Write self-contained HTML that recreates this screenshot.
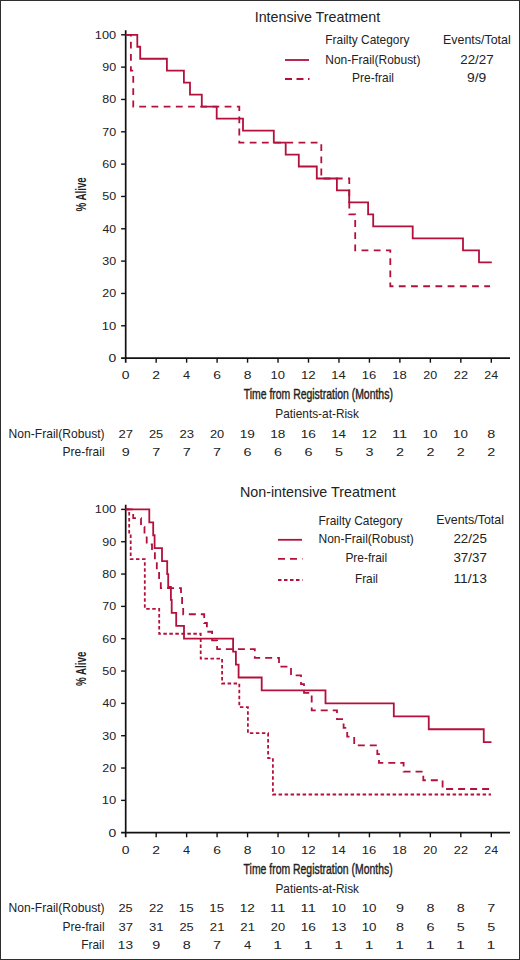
<!DOCTYPE html>
<html><head><meta charset="utf-8"><title>Kaplan-Meier survival</title>
<style>
html,body{margin:0;padding:0;background:#fff;}
svg{display:block;}
text{font-family:"Liberation Sans",sans-serif;fill:#222;}
</style></head><body>
<svg width="520" height="960" viewBox="0 0 520 960">
<rect x="0.5" y="0.5" width="519" height="959" fill="#fff" stroke="#2e2e2e" stroke-width="1"/>
<line x1="125.7" y1="30.20" x2="125.7" y2="362.70" stroke="#111" stroke-width="1.7"/>
<line x1="121.10" y1="358.10" x2="510" y2="358.10" stroke="#111" stroke-width="1.7"/>
<line x1="121.10" y1="325.77" x2="125.7" y2="325.77" stroke="#111" stroke-width="1.4"/>
<line x1="121.10" y1="293.44" x2="125.7" y2="293.44" stroke="#111" stroke-width="1.4"/>
<line x1="121.10" y1="261.11" x2="125.7" y2="261.11" stroke="#111" stroke-width="1.4"/>
<line x1="121.10" y1="228.78" x2="125.7" y2="228.78" stroke="#111" stroke-width="1.4"/>
<line x1="121.10" y1="196.45" x2="125.7" y2="196.45" stroke="#111" stroke-width="1.4"/>
<line x1="121.10" y1="164.12" x2="125.7" y2="164.12" stroke="#111" stroke-width="1.4"/>
<line x1="121.10" y1="131.79" x2="125.7" y2="131.79" stroke="#111" stroke-width="1.4"/>
<line x1="121.10" y1="99.46" x2="125.7" y2="99.46" stroke="#111" stroke-width="1.4"/>
<line x1="121.10" y1="67.13" x2="125.7" y2="67.13" stroke="#111" stroke-width="1.4"/>
<line x1="121.10" y1="34.80" x2="125.7" y2="34.80" stroke="#111" stroke-width="1.4"/>
<line x1="156.17" y1="358.10" x2="156.17" y2="362.70" stroke="#111" stroke-width="1.4"/>
<line x1="186.63" y1="358.10" x2="186.63" y2="362.70" stroke="#111" stroke-width="1.4"/>
<line x1="217.10" y1="358.10" x2="217.10" y2="362.70" stroke="#111" stroke-width="1.4"/>
<line x1="247.56" y1="358.10" x2="247.56" y2="362.70" stroke="#111" stroke-width="1.4"/>
<line x1="278.03" y1="358.10" x2="278.03" y2="362.70" stroke="#111" stroke-width="1.4"/>
<line x1="308.50" y1="358.10" x2="308.50" y2="362.70" stroke="#111" stroke-width="1.4"/>
<line x1="338.96" y1="358.10" x2="338.96" y2="362.70" stroke="#111" stroke-width="1.4"/>
<line x1="369.43" y1="358.10" x2="369.43" y2="362.70" stroke="#111" stroke-width="1.4"/>
<line x1="399.89" y1="358.10" x2="399.89" y2="362.70" stroke="#111" stroke-width="1.4"/>
<line x1="430.36" y1="358.10" x2="430.36" y2="362.70" stroke="#111" stroke-width="1.4"/>
<line x1="460.83" y1="358.10" x2="460.83" y2="362.70" stroke="#111" stroke-width="1.4"/>
<line x1="491.29" y1="358.10" x2="491.29" y2="362.70" stroke="#111" stroke-width="1.4"/>
<line x1="125.7" y1="504.80" x2="125.7" y2="837.30" stroke="#111" stroke-width="1.7"/>
<line x1="121.10" y1="832.70" x2="510" y2="832.70" stroke="#111" stroke-width="1.7"/>
<line x1="121.10" y1="800.37" x2="125.7" y2="800.37" stroke="#111" stroke-width="1.4"/>
<line x1="121.10" y1="768.04" x2="125.7" y2="768.04" stroke="#111" stroke-width="1.4"/>
<line x1="121.10" y1="735.71" x2="125.7" y2="735.71" stroke="#111" stroke-width="1.4"/>
<line x1="121.10" y1="703.38" x2="125.7" y2="703.38" stroke="#111" stroke-width="1.4"/>
<line x1="121.10" y1="671.05" x2="125.7" y2="671.05" stroke="#111" stroke-width="1.4"/>
<line x1="121.10" y1="638.72" x2="125.7" y2="638.72" stroke="#111" stroke-width="1.4"/>
<line x1="121.10" y1="606.39" x2="125.7" y2="606.39" stroke="#111" stroke-width="1.4"/>
<line x1="121.10" y1="574.06" x2="125.7" y2="574.06" stroke="#111" stroke-width="1.4"/>
<line x1="121.10" y1="541.73" x2="125.7" y2="541.73" stroke="#111" stroke-width="1.4"/>
<line x1="121.10" y1="509.40" x2="125.7" y2="509.40" stroke="#111" stroke-width="1.4"/>
<line x1="156.17" y1="832.70" x2="156.17" y2="837.30" stroke="#111" stroke-width="1.4"/>
<line x1="186.63" y1="832.70" x2="186.63" y2="837.30" stroke="#111" stroke-width="1.4"/>
<line x1="217.10" y1="832.70" x2="217.10" y2="837.30" stroke="#111" stroke-width="1.4"/>
<line x1="247.56" y1="832.70" x2="247.56" y2="837.30" stroke="#111" stroke-width="1.4"/>
<line x1="278.03" y1="832.70" x2="278.03" y2="837.30" stroke="#111" stroke-width="1.4"/>
<line x1="308.50" y1="832.70" x2="308.50" y2="837.30" stroke="#111" stroke-width="1.4"/>
<line x1="338.96" y1="832.70" x2="338.96" y2="837.30" stroke="#111" stroke-width="1.4"/>
<line x1="369.43" y1="832.70" x2="369.43" y2="837.30" stroke="#111" stroke-width="1.4"/>
<line x1="399.89" y1="832.70" x2="399.89" y2="837.30" stroke="#111" stroke-width="1.4"/>
<line x1="430.36" y1="832.70" x2="430.36" y2="837.30" stroke="#111" stroke-width="1.4"/>
<line x1="460.83" y1="832.70" x2="460.83" y2="837.30" stroke="#111" stroke-width="1.4"/>
<line x1="491.29" y1="832.70" x2="491.29" y2="837.30" stroke="#111" stroke-width="1.4"/>
<line x1="285" y1="60" x2="309" y2="60" stroke="#b4103c" stroke-width="1.8"/>
<line x1="285" y1="79" x2="309.5" y2="79" stroke="#b4103c" stroke-width="1.8" stroke-dasharray="7 4.5"/>
<line x1="278" y1="539.8" x2="302" y2="539.8" stroke="#b4103c" stroke-width="1.8"/>
<line x1="278" y1="558.8" x2="302.5" y2="558.8" stroke="#b4103c" stroke-width="1.8" stroke-dasharray="7 5"/>
<line x1="278" y1="580" x2="302.5" y2="580" stroke="#b4103c" stroke-width="1.8" stroke-dasharray="3.5 2.5"/>
<path d="M125.70,34.80 H137.30 V46.77 H140.20 V58.75 H166.90 V70.72 H183.90 V82.70 H190.00 V94.67 H201.80 V106.64 H216.70 V118.62 H243.00 V130.59 H273.80 V142.57 H285.70 V154.54 H298.80 V166.51 H316.80 V178.49 H336.90 V190.46 H349.20 V202.44 H368.10 V214.41 H373.20 V226.39 H412.70 V238.36 H463.00 V250.33 H479.00 V262.31 H491.80" fill="none" stroke="#b4103c" stroke-width="1.8"/>
<path d="M125.70,34.80 H130.90 V70.72 H133.25 V106.64 H239.30 V142.57 H321.30 V178.49 H349.30 V214.41 H355.20 V250.33 H390.30 V286.26 H490.00" fill="none" stroke="#b4103c" stroke-width="1.8" stroke-dasharray="6.8 5.4"/>
<path d="M125.70,509.40 H149.30 V522.33 H153.20 V535.26 H154.60 V548.20 H162.00 V561.13 H167.20 V574.06 H168.20 V586.99 H170.90 V599.92 H171.70 V612.86 H176.20 V625.79 H184.00 V638.72 H233.10 V651.65 H235.90 V664.58 H238.60 V677.52 H261.70 V690.45 H325.50 V703.38 H393.80 V716.31 H428.75 V729.24 H483.75 V742.18 H491.50" fill="none" stroke="#b4103c" stroke-width="1.8"/>
<path d="M125.70,509.40 H133.20 V518.14 H141.00 V526.88 H144.50 V535.61 H146.70 V544.35 H152.00 V553.09 H154.90 V561.83 H156.80 V570.56 H159.10 V579.30 H160.80 V588.04 H181.00 V596.78 H182.10 V605.52 H183.20 V614.25 H204.20 V622.99 H206.90 V631.73 H212.10 V640.47 H217.10 V649.21 H254.80 V657.94 H279.00 V666.68 H291.00 V675.42 H301.00 V684.16 H304.00 V692.89 H311.70 V701.63 H311.70 V710.37 H337.00 V719.11 H343.60 V727.85 H347.20 V736.58 H354.20 V745.32 H377.30 V754.06 H379.00 V762.80 H403.60 V771.54 H423.30 V780.27 H442.60 V789.01 H491.00" fill="none" stroke="#b4103c" stroke-width="1.8" stroke-dasharray="7 5"/>
<path d="M125.70,509.40 H129.20 V534.27 H130.70 V559.14 H144.80 V584.01 H144.80 V608.88 H159.20 V633.75 H200.70 V658.62 H222.10 V683.48 H239.30 V707.20 H247.90 V733.22 H268.10 V758.09 H272.90 V794.50 H491.00" fill="none" stroke="#b4103c" stroke-width="1.8" stroke-dasharray="3.5 2.5"/>
<text x="254.67" y="21.80" font-size="15" textLength="125.55" lengthAdjust="spacingAndGlyphs">Intensive Treatment</text>
<text x="239.91" y="496.50" font-size="15" textLength="155.76" lengthAdjust="spacingAndGlyphs">Non-intensive Treatment</text>
<text x="325.32" y="44.30" font-size="12.2" textLength="84.09" lengthAdjust="spacingAndGlyphs">Frailty Category</text>
<text x="325.32" y="63.60" font-size="12.2" textLength="95.13" lengthAdjust="spacingAndGlyphs">Non-Frail(Robust)</text>
<text x="352.12" y="81.80" font-size="12.2" textLength="41.89" lengthAdjust="spacingAndGlyphs">Pre-frail</text>
<text x="442.98" y="44.30" font-size="12.2" textLength="67.73" lengthAdjust="spacingAndGlyphs">Events/Total</text>
<text x="460.25" y="63.60" font-size="12.2" textLength="33.39" lengthAdjust="spacingAndGlyphs">22/27</text>
<text x="467.13" y="81.80" font-size="12.2" textLength="19.18" lengthAdjust="spacingAndGlyphs">9/9</text>
<text x="318.52" y="524.50" font-size="12.2" textLength="83.99" lengthAdjust="spacingAndGlyphs">Frailty Category</text>
<text x="318.52" y="543.00" font-size="12.2" textLength="95.33" lengthAdjust="spacingAndGlyphs">Non-Frail(Robust)</text>
<text x="345.42" y="562.00" font-size="12.2" textLength="41.78" lengthAdjust="spacingAndGlyphs">Pre-frail</text>
<text x="354.93" y="583.00" font-size="12.2" textLength="23.06" lengthAdjust="spacingAndGlyphs">Frail</text>
<text x="436.28" y="523.90" font-size="12.2" textLength="67.73" lengthAdjust="spacingAndGlyphs">Events/Total</text>
<text x="453.45" y="543.00" font-size="12.2" textLength="33.39" lengthAdjust="spacingAndGlyphs">22/25</text>
<text x="453.45" y="561.90" font-size="12.2" textLength="33.39" lengthAdjust="spacingAndGlyphs">37/37</text>
<text x="453.47" y="583.00" font-size="12.2" textLength="33.50" lengthAdjust="spacingAndGlyphs">11/13</text>
<text x="243.72" y="399.10" font-size="14.2" stroke="#222" stroke-width="0.4" textLength="149.14" lengthAdjust="spacingAndGlyphs">Time from Registration (Months)</text>
<text x="243.62" y="873.70" font-size="14.2" stroke="#222" stroke-width="0.4" textLength="149.04" lengthAdjust="spacingAndGlyphs">Time from Registration (Months)</text>
<text transform="translate(85.80,211.57) rotate(-90)" x="0" y="0" font-size="14.6" font-weight="700" textLength="34.28" lengthAdjust="spacingAndGlyphs">% Alive</text>
<text transform="translate(85.80,686.07) rotate(-90)" x="0" y="0" font-size="14.6" font-weight="700" textLength="34.39" lengthAdjust="spacingAndGlyphs">% Alive</text>
<text x="275.33" y="417.90" font-size="12.2" textLength="83.59" lengthAdjust="spacingAndGlyphs">Patients-at-Risk</text>
<text x="275.43" y="892.60" font-size="12.2" textLength="83.59" lengthAdjust="spacingAndGlyphs">Patients-at-Risk</text>
<text x="8.61" y="437.80" font-size="12.2" textLength="95.94" lengthAdjust="spacingAndGlyphs">Non-Frail(Robust)</text>
<text x="62.62" y="456.30" font-size="12.2" textLength="41.99" lengthAdjust="spacingAndGlyphs">Pre-frail</text>
<text x="8.61" y="911.90" font-size="12.2" textLength="95.94" lengthAdjust="spacingAndGlyphs">Non-Frail(Robust)</text>
<text x="62.62" y="931.00" font-size="12.2" textLength="41.99" lengthAdjust="spacingAndGlyphs">Pre-frail</text>
<text x="81.22" y="949.10" font-size="12.2" textLength="23.16" lengthAdjust="spacingAndGlyphs">Frail</text>
<text x="108.50" y="362.10" font-size="11.6" textLength="7.74" lengthAdjust="spacingAndGlyphs">0</text>
<text x="101.68" y="329.77" font-size="11.6" textLength="14.48" lengthAdjust="spacingAndGlyphs">10</text>
<text x="102.26" y="297.44" font-size="11.6" textLength="13.87" lengthAdjust="spacingAndGlyphs">20</text>
<text x="102.26" y="265.11" font-size="11.6" textLength="13.87" lengthAdjust="spacingAndGlyphs">30</text>
<text x="102.54" y="232.78" font-size="11.6" textLength="13.59" lengthAdjust="spacingAndGlyphs">40</text>
<text x="102.26" y="200.45" font-size="11.6" textLength="13.87" lengthAdjust="spacingAndGlyphs">50</text>
<text x="102.26" y="168.12" font-size="11.6" textLength="13.87" lengthAdjust="spacingAndGlyphs">60</text>
<text x="102.26" y="135.79" font-size="11.6" textLength="13.87" lengthAdjust="spacingAndGlyphs">70</text>
<text x="102.26" y="103.46" font-size="11.6" textLength="13.87" lengthAdjust="spacingAndGlyphs">80</text>
<text x="102.26" y="71.13" font-size="11.6" textLength="13.87" lengthAdjust="spacingAndGlyphs">90</text>
<text x="94.80" y="38.80" font-size="11.6" textLength="21.28" lengthAdjust="spacingAndGlyphs">100</text>
<text x="121.80" y="379.00" font-size="11.6" textLength="7.74" lengthAdjust="spacingAndGlyphs">0</text>
<text x="152.27" y="379.00" font-size="11.6" textLength="7.74" lengthAdjust="spacingAndGlyphs">2</text>
<text x="183.06" y="379.00" font-size="11.6" textLength="7.10" lengthAdjust="spacingAndGlyphs">4</text>
<text x="213.20" y="379.00" font-size="11.6" textLength="7.74" lengthAdjust="spacingAndGlyphs">6</text>
<text x="243.66" y="379.00" font-size="11.6" textLength="7.74" lengthAdjust="spacingAndGlyphs">8</text>
<text x="270.46" y="379.00" font-size="11.6" textLength="14.48" lengthAdjust="spacingAndGlyphs">10</text>
<text x="300.90" y="379.00" font-size="11.6" textLength="14.80" lengthAdjust="spacingAndGlyphs">12</text>
<text x="331.39" y="379.00" font-size="11.6" textLength="14.48" lengthAdjust="spacingAndGlyphs">14</text>
<text x="361.86" y="379.00" font-size="11.6" textLength="14.48" lengthAdjust="spacingAndGlyphs">16</text>
<text x="392.32" y="379.00" font-size="11.6" textLength="14.48" lengthAdjust="spacingAndGlyphs">18</text>
<text x="423.37" y="379.00" font-size="11.6" textLength="13.87" lengthAdjust="spacingAndGlyphs">20</text>
<text x="453.83" y="379.00" font-size="11.6" textLength="14.17" lengthAdjust="spacingAndGlyphs">22</text>
<text x="484.30" y="379.00" font-size="11.6" textLength="13.87" lengthAdjust="spacingAndGlyphs">24</text>
<text x="108.50" y="836.70" font-size="11.6" textLength="7.74" lengthAdjust="spacingAndGlyphs">0</text>
<text x="101.68" y="804.37" font-size="11.6" textLength="14.48" lengthAdjust="spacingAndGlyphs">10</text>
<text x="102.26" y="772.04" font-size="11.6" textLength="13.87" lengthAdjust="spacingAndGlyphs">20</text>
<text x="102.26" y="739.71" font-size="11.6" textLength="13.87" lengthAdjust="spacingAndGlyphs">30</text>
<text x="102.54" y="707.38" font-size="11.6" textLength="13.59" lengthAdjust="spacingAndGlyphs">40</text>
<text x="102.26" y="675.05" font-size="11.6" textLength="13.87" lengthAdjust="spacingAndGlyphs">50</text>
<text x="102.26" y="642.72" font-size="11.6" textLength="13.87" lengthAdjust="spacingAndGlyphs">60</text>
<text x="102.26" y="610.39" font-size="11.6" textLength="13.87" lengthAdjust="spacingAndGlyphs">70</text>
<text x="102.26" y="578.06" font-size="11.6" textLength="13.87" lengthAdjust="spacingAndGlyphs">80</text>
<text x="102.26" y="545.73" font-size="11.6" textLength="13.87" lengthAdjust="spacingAndGlyphs">90</text>
<text x="94.80" y="513.40" font-size="11.6" textLength="21.28" lengthAdjust="spacingAndGlyphs">100</text>
<text x="121.80" y="853.60" font-size="11.6" textLength="7.74" lengthAdjust="spacingAndGlyphs">0</text>
<text x="152.27" y="853.60" font-size="11.6" textLength="7.74" lengthAdjust="spacingAndGlyphs">2</text>
<text x="183.06" y="853.60" font-size="11.6" textLength="7.10" lengthAdjust="spacingAndGlyphs">4</text>
<text x="213.20" y="853.60" font-size="11.6" textLength="7.74" lengthAdjust="spacingAndGlyphs">6</text>
<text x="243.66" y="853.60" font-size="11.6" textLength="7.74" lengthAdjust="spacingAndGlyphs">8</text>
<text x="270.46" y="853.60" font-size="11.6" textLength="14.48" lengthAdjust="spacingAndGlyphs">10</text>
<text x="300.90" y="853.60" font-size="11.6" textLength="14.80" lengthAdjust="spacingAndGlyphs">12</text>
<text x="331.39" y="853.60" font-size="11.6" textLength="14.48" lengthAdjust="spacingAndGlyphs">14</text>
<text x="361.86" y="853.60" font-size="11.6" textLength="14.48" lengthAdjust="spacingAndGlyphs">16</text>
<text x="392.32" y="853.60" font-size="11.6" textLength="14.48" lengthAdjust="spacingAndGlyphs">18</text>
<text x="423.37" y="853.60" font-size="11.6" textLength="13.87" lengthAdjust="spacingAndGlyphs">20</text>
<text x="453.83" y="853.60" font-size="11.6" textLength="14.17" lengthAdjust="spacingAndGlyphs">22</text>
<text x="484.30" y="853.60" font-size="11.6" textLength="13.87" lengthAdjust="spacingAndGlyphs">24</text>
<text x="118.50" y="437.60" font-size="11.8" textLength="14.55" lengthAdjust="spacingAndGlyphs">27</text>
<text x="121.74" y="456.20" font-size="11.8" textLength="7.99" lengthAdjust="spacingAndGlyphs">9</text>
<text x="148.97" y="437.60" font-size="11.8" textLength="14.25" lengthAdjust="spacingAndGlyphs">25</text>
<text x="152.21" y="456.20" font-size="11.8" textLength="7.99" lengthAdjust="spacingAndGlyphs">7</text>
<text x="179.43" y="437.60" font-size="11.8" textLength="14.55" lengthAdjust="spacingAndGlyphs">23</text>
<text x="182.67" y="456.20" font-size="11.8" textLength="7.99" lengthAdjust="spacingAndGlyphs">7</text>
<text x="209.91" y="437.60" font-size="11.8" textLength="14.25" lengthAdjust="spacingAndGlyphs">20</text>
<text x="213.14" y="456.20" font-size="11.8" textLength="7.99" lengthAdjust="spacingAndGlyphs">7</text>
<text x="239.76" y="437.60" font-size="11.8" textLength="15.18" lengthAdjust="spacingAndGlyphs">19</text>
<text x="243.60" y="456.20" font-size="11.8" textLength="7.99" lengthAdjust="spacingAndGlyphs">6</text>
<text x="270.22" y="437.60" font-size="11.8" textLength="15.18" lengthAdjust="spacingAndGlyphs">18</text>
<text x="274.07" y="456.20" font-size="11.8" textLength="7.99" lengthAdjust="spacingAndGlyphs">6</text>
<text x="300.69" y="437.60" font-size="11.8" textLength="15.18" lengthAdjust="spacingAndGlyphs">16</text>
<text x="304.54" y="456.20" font-size="11.8" textLength="7.99" lengthAdjust="spacingAndGlyphs">6</text>
<text x="331.18" y="437.60" font-size="11.8" textLength="14.86" lengthAdjust="spacingAndGlyphs">14</text>
<text x="335.00" y="456.20" font-size="11.8" textLength="7.99" lengthAdjust="spacingAndGlyphs">5</text>
<text x="361.62" y="437.60" font-size="11.8" textLength="15.18" lengthAdjust="spacingAndGlyphs">12</text>
<text x="365.47" y="456.20" font-size="11.8" textLength="7.99" lengthAdjust="spacingAndGlyphs">3</text>
<text x="392.01" y="437.60" font-size="11.8" textLength="15.16" lengthAdjust="spacingAndGlyphs">11</text>
<text x="395.93" y="456.20" font-size="11.8" textLength="7.99" lengthAdjust="spacingAndGlyphs">2</text>
<text x="422.58" y="437.60" font-size="11.8" textLength="14.86" lengthAdjust="spacingAndGlyphs">10</text>
<text x="426.40" y="456.20" font-size="11.8" textLength="7.99" lengthAdjust="spacingAndGlyphs">2</text>
<text x="453.04" y="437.60" font-size="11.8" textLength="14.86" lengthAdjust="spacingAndGlyphs">10</text>
<text x="456.87" y="456.20" font-size="11.8" textLength="7.99" lengthAdjust="spacingAndGlyphs">2</text>
<text x="487.33" y="437.60" font-size="11.8" textLength="7.99" lengthAdjust="spacingAndGlyphs">8</text>
<text x="487.33" y="456.20" font-size="11.8" textLength="7.99" lengthAdjust="spacingAndGlyphs">2</text>
<text x="118.51" y="911.90" font-size="11.8" textLength="14.25" lengthAdjust="spacingAndGlyphs">25</text>
<text x="118.50" y="930.90" font-size="11.8" textLength="14.55" lengthAdjust="spacingAndGlyphs">37</text>
<text x="117.89" y="949.20" font-size="11.8" textLength="15.18" lengthAdjust="spacingAndGlyphs">13</text>
<text x="148.96" y="911.90" font-size="11.8" textLength="14.55" lengthAdjust="spacingAndGlyphs">22</text>
<text x="148.96" y="930.90" font-size="11.8" textLength="14.55" lengthAdjust="spacingAndGlyphs">31</text>
<text x="152.21" y="949.20" font-size="11.8" textLength="7.99" lengthAdjust="spacingAndGlyphs">9</text>
<text x="178.85" y="911.90" font-size="11.8" textLength="14.86" lengthAdjust="spacingAndGlyphs">15</text>
<text x="179.44" y="930.90" font-size="11.8" textLength="14.25" lengthAdjust="spacingAndGlyphs">25</text>
<text x="182.67" y="949.20" font-size="11.8" textLength="7.99" lengthAdjust="spacingAndGlyphs">8</text>
<text x="209.32" y="911.90" font-size="11.8" textLength="14.86" lengthAdjust="spacingAndGlyphs">15</text>
<text x="209.89" y="930.90" font-size="11.8" textLength="14.55" lengthAdjust="spacingAndGlyphs">21</text>
<text x="213.14" y="949.20" font-size="11.8" textLength="7.99" lengthAdjust="spacingAndGlyphs">7</text>
<text x="239.76" y="911.90" font-size="11.8" textLength="15.18" lengthAdjust="spacingAndGlyphs">12</text>
<text x="240.36" y="930.90" font-size="11.8" textLength="14.55" lengthAdjust="spacingAndGlyphs">21</text>
<text x="243.93" y="949.20" font-size="11.8" textLength="7.33" lengthAdjust="spacingAndGlyphs">4</text>
<text x="270.14" y="911.90" font-size="11.8" textLength="15.16" lengthAdjust="spacingAndGlyphs">11</text>
<text x="270.84" y="930.90" font-size="11.8" textLength="14.25" lengthAdjust="spacingAndGlyphs">20</text>
<text x="273.34" y="949.20" font-size="11.8" textLength="8.79" lengthAdjust="spacingAndGlyphs">1</text>
<text x="300.61" y="911.90" font-size="11.8" textLength="15.16" lengthAdjust="spacingAndGlyphs">11</text>
<text x="300.69" y="930.90" font-size="11.8" textLength="15.18" lengthAdjust="spacingAndGlyphs">16</text>
<text x="303.81" y="949.20" font-size="11.8" textLength="8.79" lengthAdjust="spacingAndGlyphs">1</text>
<text x="331.18" y="911.90" font-size="11.8" textLength="14.86" lengthAdjust="spacingAndGlyphs">10</text>
<text x="331.16" y="930.90" font-size="11.8" textLength="15.18" lengthAdjust="spacingAndGlyphs">13</text>
<text x="334.27" y="949.20" font-size="11.8" textLength="8.79" lengthAdjust="spacingAndGlyphs">1</text>
<text x="361.65" y="911.90" font-size="11.8" textLength="14.86" lengthAdjust="spacingAndGlyphs">10</text>
<text x="361.65" y="930.90" font-size="11.8" textLength="14.86" lengthAdjust="spacingAndGlyphs">10</text>
<text x="364.74" y="949.20" font-size="11.8" textLength="8.79" lengthAdjust="spacingAndGlyphs">1</text>
<text x="395.93" y="911.90" font-size="11.8" textLength="7.99" lengthAdjust="spacingAndGlyphs">9</text>
<text x="395.93" y="930.90" font-size="11.8" textLength="7.99" lengthAdjust="spacingAndGlyphs">8</text>
<text x="395.20" y="949.20" font-size="11.8" textLength="8.79" lengthAdjust="spacingAndGlyphs">1</text>
<text x="426.40" y="911.90" font-size="11.8" textLength="7.99" lengthAdjust="spacingAndGlyphs">8</text>
<text x="426.40" y="930.90" font-size="11.8" textLength="7.99" lengthAdjust="spacingAndGlyphs">6</text>
<text x="425.67" y="949.20" font-size="11.8" textLength="8.79" lengthAdjust="spacingAndGlyphs">1</text>
<text x="456.87" y="911.90" font-size="11.8" textLength="7.99" lengthAdjust="spacingAndGlyphs">8</text>
<text x="456.87" y="930.90" font-size="11.8" textLength="7.99" lengthAdjust="spacingAndGlyphs">5</text>
<text x="456.14" y="949.20" font-size="11.8" textLength="8.79" lengthAdjust="spacingAndGlyphs">1</text>
<text x="487.33" y="911.90" font-size="11.8" textLength="7.99" lengthAdjust="spacingAndGlyphs">7</text>
<text x="487.33" y="930.90" font-size="11.8" textLength="7.99" lengthAdjust="spacingAndGlyphs">5</text>
<text x="486.60" y="949.20" font-size="11.8" textLength="8.79" lengthAdjust="spacingAndGlyphs">1</text>
</svg>
</body></html>
